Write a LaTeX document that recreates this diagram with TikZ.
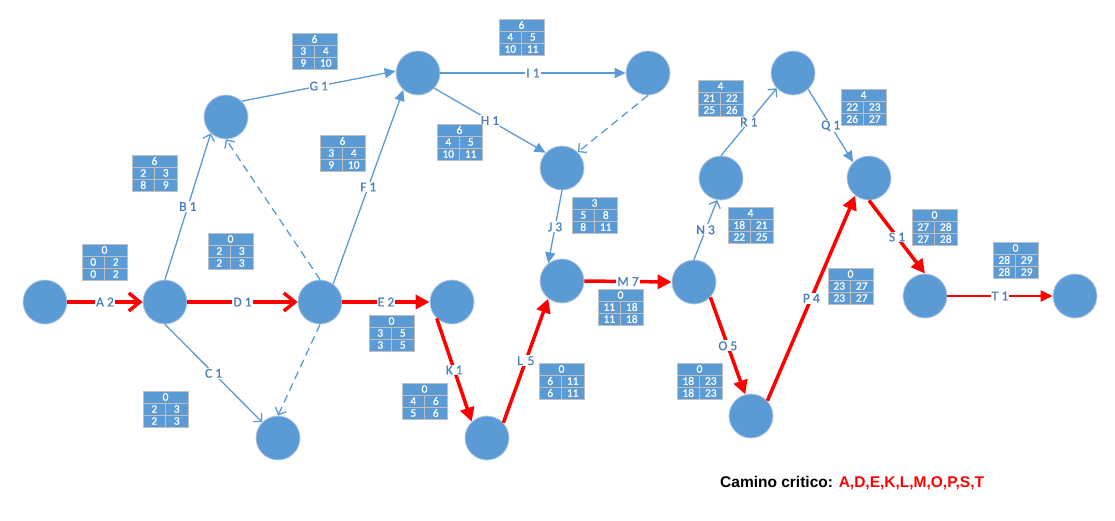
\documentclass[tikz,border=0pt]{standalone}
\usepackage{fontspec}
\setmainfont{Carlito}
\newfontfamily\labfont{Carlito}[FakeBold=0.8]
\newfontfamily\arialfont{Liberation Sans}
\usetikzlibrary{arrows.meta}
\definecolor{nodeblue}{HTML}{5B9BD5}
\definecolor{linkblue}{HTML}{5B9BD5}
\definecolor{labblue}{HTML}{4A7EBB}
\definecolor{tabgray}{HTML}{BFBFBF}
\definecolor{halo}{HTML}{B4C8E0}
\definecolor{critred}{HTML}{FF0000}
\tikzset{
  ev/.style={circle, fill=nodeblue, draw=halo, line width=0.8pt, minimum size=44pt, inner sep=0pt},
  tabcell/.style={draw=tabgray, fill=nodeblue, text=white, inner sep=0pt, outer sep=0pt,
    minimum height=12pt, line width=0.9pt, font=\labfont\fontsize{11.5}{11}\selectfont},
  elab/.style={fill=white, text=labblue, inner sep=1pt, font=\labfont\fontsize{13.5}{14}\selectfont},
  crit/.style={draw=critred, line width=3.5pt},
  critthin/.style={draw=critred, line width=2pt},
  act/.style={draw=linkblue, line width=1.3pt},
  dummy/.style={draw=linkblue, line width=1.3pt, dash pattern=on 8pt off 5pt},
  redbarb/.style={-{Straight Barb[length=11pt,width=18pt]}},
  redtri/.style={-{Triangle[length=14pt,width=14pt]}},
  redtrismall/.style={-{Triangle[length=12pt,width=11pt]}},
  bluetri/.style={-{Triangle[length=11pt,width=10pt]}},
  bluebarb/.style={-{Straight Barb[length=6pt,width=12pt]}},
}
\newcommand{\cpmtab}[8]{%
  \node[tabcell, minimum width=45pt, anchor=north west] (#1t) at (#2,#3) {#4};
  \node[tabcell, minimum width=22.5pt, anchor=north west] (#1a) at (#1t.south west) {#5};
  \node[tabcell, minimum width=22.5pt, anchor=north west] (#1b) at (#1a.north east) {#6};
  \node[tabcell, minimum width=22.5pt, anchor=north west] (#1c) at (#1a.south west) {#7};
  \node[tabcell, minimum width=22.5pt, anchor=north west] (#1d) at (#1c.north east) {#8};
}
\begin{document}
\begin{tikzpicture}[x=1pt, y=-1pt]
\fill[white] (0,0) rectangle (1115,520);
\useasboundingbox (0,0) rectangle (1115,520);

% events
\node[ev] (n1) at (45,302) {};
\node[ev] (n2) at (165,302) {};
\node[ev] (n3) at (320,302) {};
\node[ev] (n4) at (452,302) {};
\node[ev] (n5) at (487,438) {};
\node[ev] (n6) at (562,281) {};
\node[ev] (n7) at (694,282) {};
\node[ev] (n8) at (751,416) {};
\node[ev] (n9) at (869,178) {};
\node[ev] (n10) at (925,296) {};
\node[ev] (n11) at (1075,296) {};
\node[ev] (nB) at (226,117) {};
\node[ev] (nC) at (278,438) {};
\node[ev] (nG) at (418,73) {};
\node[ev] (nH) at (562,168) {};
\node[ev] (nI) at (648,73) {};
\node[ev] (nN) at (721,178) {};
\node[ev] (nR) at (793,73) {};

% non-critical activities
\draw[act, bluebarb] (n2.north) -- node[elab] {B 1} (nB.227);
\draw[act, bluebarb] (n2.south) -- node[elab] {C 1} (nC.135);
\draw[act, bluetri] (nB.45) -- node[elab] {G 1} (nG.175);
\draw[act, bluetri] (n3.54) -- node[elab] {F 1} (nG.229);
\draw[act, bluetri] (nG.-43) -- node[elab] {H 1} (nH.137);
\draw[act, bluetri] (nG.east) -- node[elab] {I 1} (nI.west);
\draw[act, bluetri] (nH.south) -- node[elab] {J 3} (n6.128);
\draw[act, bluebarb] (n7.north) -- node[elab] {N 3} (nN.260);
\draw[act, bluebarb] (nN.north) -- node[elab] {R 1} (nR.223);
\draw[act, bluetri] (nR.-47) -- node[elab] {Q 1} (n9.135);

% dummies
\draw[dummy, bluebarb] (nI.south) -- (nH.45);
\draw[dummy, bluebarb] (n3.north) -- (nB.south);
\draw[dummy, bluebarb] (n3.south) -- (nC.north);

% critical path
\draw[crit, redbarb] (n1.east) -- node[elab] {A 2} (n2.west);
\draw[crit, redbarb] (n2.east) -- node[elab] {D 1} (n3.west);
\draw[crit, redtri] (n3.east) -- node[elab] {E 2} (n4.west);
\draw[crit, redtri] (n4.227) -- node[elab] {K 1} (n5.133);
\draw[crit, redtri] (n5.43) -- node[elab] {L\,\,5} (n6.232);
\draw[crit, redtri] (n6.east) -- node[elab] {M 7} (n7.west);
\draw[crit, redtri] (n7.-43) -- node[elab] {O 5} (n8.105);
\draw[crit, redtri] (n8.43) -- node[elab] {P 4} (n9.232);
\draw[crit, redtri] (n9.south) -- node[elab] {S 1} (n10.north);
\draw[critthin, redtrismall] (n10.east) -- node[elab] {T 1} (n11.west);

% tables
\cpmtab{tA}{82}{244}{0}{0}{2}{0}{2}
\cpmtab{tB}{132}{155}{6}{2}{3}{8}{9}
\cpmtab{tD}{208}{233}{0}{2}{3}{2}{3}
\cpmtab{tC}{143}{391}{0}{2}{3}{2}{3}
\cpmtab{tG}{292}{33}{6}{3}{4}{9}{10}
\cpmtab{tI}{499}{19}{6}{4}{5}{10}{11}
\cpmtab{tF}{320}{135}{6}{3}{4}{9}{10}
\cpmtab{tH}{437}{124}{6}{4}{5}{10}{11}
\cpmtab{tE}{369}{315}{0}{3}{5}{3}{5}
\cpmtab{tK}{402}{383}{0}{4}{6}{5}{6}
\cpmtab{tL}{539}{363}{0}{6}{11}{6}{11}
\cpmtab{tM}{598}{289}{0}{11}{18}{11}{18}
\cpmtab{tJ}{572}{197}{3}{5}{8}{8}{11}
\cpmtab{tN}{728}{207}{4}{18}{21}{22}{25}
\cpmtab{tO}{677}{363}{0}{18}{23}{18}{23}
\cpmtab{tP}{828}{268}{0}{23}{27}{23}{27}
\cpmtab{tR}{698}{80}{4}{21}{22}{25}{26}
\cpmtab{tQ}{841}{89}{4}{22}{23}{26}{27}
\cpmtab{tS}{912}{209}{0}{27}{28}{27}{28}
\cpmtab{tT}{993}{242}{0}{28}{29}{28}{29}

% caption
\node[anchor=base west, inner sep=0pt, font=\arialfont\bfseries\fontsize{15.5}{18}\selectfont] (cc) at (720,487)
  {Camino critico: \textcolor{critred}{A,D,E,K,L,M,O,P,S,T}};
\end{tikzpicture}
\end{document}
